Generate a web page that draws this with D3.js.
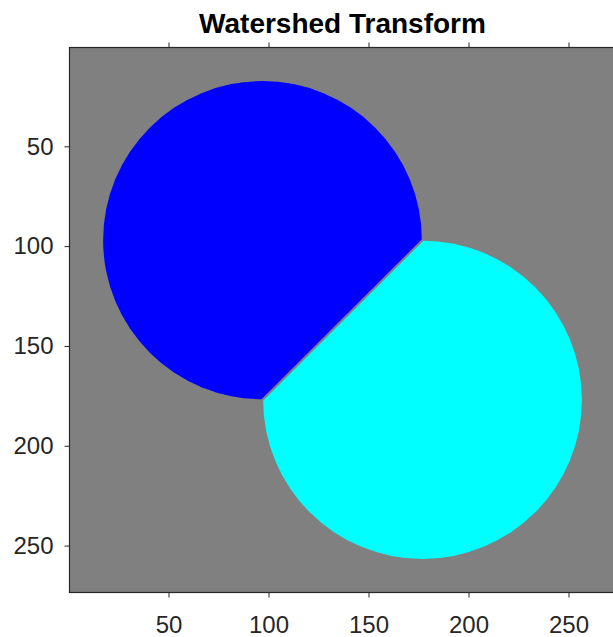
<!DOCTYPE html>
<html>
<head>
<meta charset="utf-8">
<script src="https://cdn.jsdelivr.net/npm/d3@7"></script>
<style>
  body { margin: 0; background: #fff; }
  text { font-family: "Liberation Sans", Arial, Helvetica, sans-serif; }
  .axis text { font-size: 24px; fill: #262626; }
  .axis line, .axis path { stroke: #262626; }
</style>
</head>
<body>
<div id="chart"></div>
<script>
(function(d3) {
  "use strict";

  // image size (pixels) of the label matrix
  var imageCols = 273;
  var imageRows = 273;

  // watershed regions: two overlapping discs split by the ridge line
  var regionNames = ["Region 1", "Region 2"];
  var centerCols = [97, 177];
  var centerRows = [97, 177];
  var radii = [79.2, 79.2];
  // ridge line col + row = ridgeSum, one pixel wide (label 0)
  var ridgeSum = 274;

  var xTicks = [50, 100, 150, 200, 250];
  var yTicks = [50, 100, 150, 200, 250];

  var width = 613, height = 637;
  var Axes = { left: 69.5, top: 47.5, w: 546, h: 545 };

  var x = d3.scaleLinear().domain([0.5, imageCols + 0.5]).range([Axes.left, Axes.left + Axes.w]);
  var y = d3.scaleLinear().domain([0.5, imageRows + 0.5]).range([Axes.top, Axes.top + Axes.h]);
  var colors = d3.scaleOrdinal().domain(regionNames).range(["#0000ff", "#00ffff"]);

  var svg = d3.select("#chart").append("svg")
      .attr("width", width)
      .attr("height", height);

  var defs = svg.append("defs");
  defs.append("clipPath").attr("id", "axesClip")
    .append("rect")
      .attr("x", x(0.5)).attr("y", y(0.5))
      .attr("width", x(imageCols + 0.5) - x(0.5))
      .attr("height", y(imageRows + 0.5) - y(0.5));

  // half-planes on each side of the ridge line
  var half = 0.75, far = 1000;
  var s0 = ridgeSum - half, s1 = ridgeSum + half;
  var sides = [
    [[-far, -far], [s0 + far, -far], [-far, s0 + far]],
    [[far, far], [s1 - far, far], [far, s1 - far]]
  ];
  regionNames.forEach(function(name, i) {
    defs.append("clipPath").attr("id", "side" + i)
      .append("polygon")
        .attr("points", sides[i].map(p => x(p[0]) + "," + y(p[1])).join(" "));
  });

  var img = svg.append("g").attr("clip-path", "url(#axesClip)");
  img.append("rect")
      .attr("x", x(0.5)).attr("y", y(0.5))
      .attr("width", x(imageCols + 0.5) - x(0.5))
      .attr("height", y(imageRows + 0.5) - y(0.5))
      .attr("fill", "#808080");

  img.selectAll(".region")
    .data(regionNames)
    .enter()
    .append("g")
      .attr("clip-path", (d, i) => `url(#side${i})`)
    .append("ellipse")
      .attr("class", "region")
      .attr("cx", (d, i) => x(centerCols[i]))
      .attr("cy", (d, i) => y(centerRows[i]))
      .attr("rx", (d, i) => x(radii[i] + 0.5) - x(0))
      .attr("ry", (d, i) => y(radii[i] + 0.5) - y(0))
      .attr("fill", d => colors(d));

  // axes (ticks out, box on)
  svg.append("g").attr("class", "axis")
      .attr("transform", `translate(0, ${Axes.top + Axes.h})`)
      .call(d3.axisBottom(x).tickValues(xTicks).tickSize(5).tickSizeOuter(0).tickPadding(18.5));
  svg.append("g").attr("class", "axis")
      .attr("transform", `translate(0, ${Axes.top})`)
      .call(d3.axisTop(x).tickValues(xTicks).tickSize(5).tickSizeOuter(0).tickFormat(""));
  svg.append("g").attr("class", "axis")
      .attr("transform", `translate(${Axes.left}, 0)`)
      .call(d3.axisLeft(y).tickValues(yTicks).tickSize(5).tickSizeOuter(0).tickPadding(11));
  svg.append("g").attr("class", "axis")
      .attr("transform", `translate(${Axes.left + Axes.w}, 0)`)
      .call(d3.axisRight(y).tickValues(yTicks).tickSize(5).tickSizeOuter(0).tickFormat(""));

  svg.selectAll(".axis .domain").remove();
  svg.append("rect")
      .attr("x", Axes.left).attr("y", Axes.top)
      .attr("width", Axes.w).attr("height", Axes.h)
      .attr("fill", "none")
      .attr("stroke", "#262626")
      .attr("stroke-width", 1.2);

  svg.append("text")
      .attr("x", Axes.left + Axes.w / 2)
      .attr("y", 33)
      .attr("text-anchor", "middle")
      .style("font-size", "28px")
      .style("font-weight", "bold")
      .style("fill", "#000")
      .text("Watershed Transform");

})(d3);
</script>
</body>
</html>
